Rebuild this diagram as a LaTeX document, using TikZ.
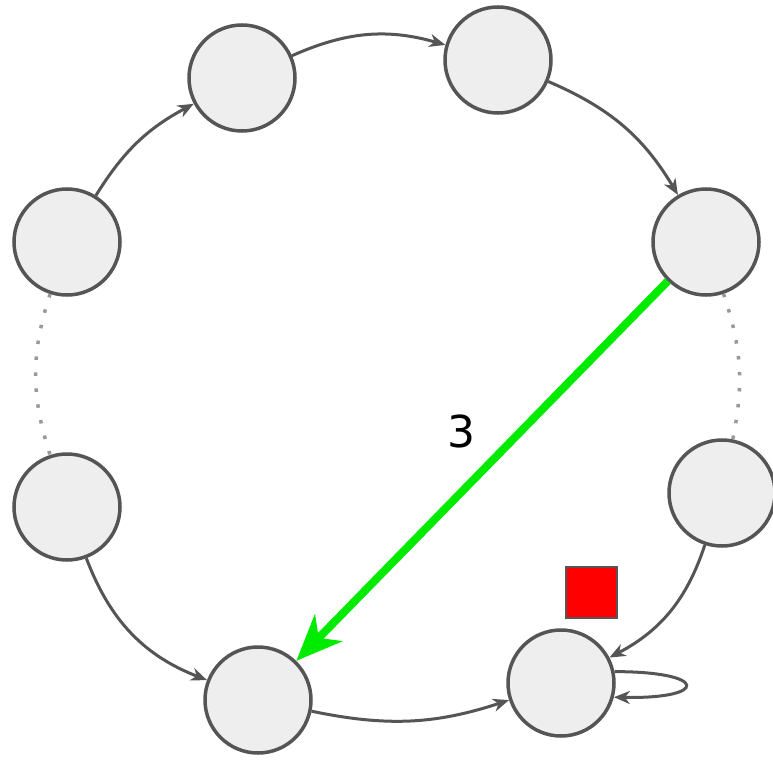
\documentclass[tikz,border=0pt]{standalone}
\usepackage{fontspec}
\setmainfont{DejaVu Sans}
\usetikzlibrary{arrows.meta}
\definecolor{edgegray}{HTML}{555555}
\definecolor{nodefill}{HTML}{EEEEEE}
\definecolor{dotgray}{HTML}{999999}
\definecolor{brightgreen}{RGB}{0,235,0}
\begin{document}
\begin{tikzpicture}[x=1pt,y=-1pt,
  vertex/.style={circle,draw=edgegray,fill=nodefill,line width=3.5pt,minimum size=106pt,inner sep=0pt},
  edge/.style={draw=edgegray,line width=3pt,-{Stealth[length=16pt,width=13pt,inset=5pt]}},
  dotarc/.style={draw=dotgray,line width=3.5pt,dash pattern=on 3.5pt off 12.5pt},
  chord/.style={draw=brightgreen,line width=8pt,-{Stealth[length=46pt,width=38pt,inset=14pt]}},
  marker/.style={draw=edgegray,fill=red,line width=1.5pt,minimum size=51pt,inner sep=0pt},
  lbl/.style={font=\fontsize{44}{50}\selectfont,text=black,inner sep=0pt}
]
\useasboundingbox (0,0) rectangle (773,762);
\node[vertex] (TL) at (242,78) {};
\node[vertex] (T) at (498,60) {};
\node[vertex] (R1) at (706,242) {};
\node[vertex] (R2) at (722,493) {};
\node[vertex] (BR) at (561,683) {};
\node[vertex] (BL) at (258,700) {};
\node[vertex] (L2) at (67,507) {};
\node[vertex] (L1) at (67,242) {};
\node[marker] (sq) at (591.5,592.5) {};
\node[lbl] (lab) at (461,431) {3};

\draw[edge] (L1) to[bend left=15] (TL);
\draw[edge] (TL) to[bend left=20] (T);
\draw[edge] (T) to[bend left=18] (R1);
\draw[dotarc] (R1) to[bend left=15] (R2);
\draw[edge] (R2) to[bend left=22] (BR);
\draw[edge] (BL) to[bend right=15] (BR);
\draw[edge] (L2) to[bend right=24] (BL);
\draw[dotarc] (L1) to[bend right=18] (L2);
\draw[edge] (BR.12) .. controls +(95,0) and +(95,2) .. (BR.-15);
\draw[chord] (R1) -- (BL);
\end{tikzpicture}
\end{document}
